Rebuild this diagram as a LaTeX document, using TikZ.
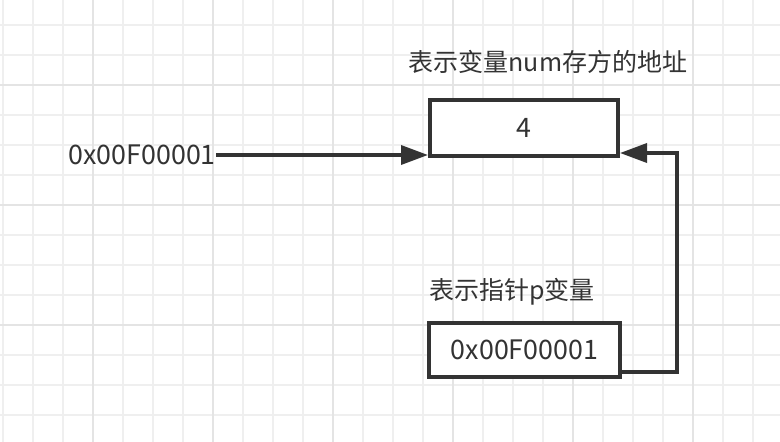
\documentclass[tikz,border=0pt]{standalone}
\usepackage{fontspec}
\setmainfont{Noto Sans CJK SC}
\usetikzlibrary{arrows.meta}

\definecolor{ink}{HTML}{333333}
\definecolor{gridminor}{HTML}{EFEFEF}
\definecolor{gridmajor}{HTML}{E4E4E4}

\tikzset{
  cell/.style={draw=ink,line width=4pt,fill=white,minimum width=188pt,minimum height=56pt,
    font=\fontsize{26.8}{30}\selectfont,text=ink},
  caption/.style={font=\fontsize{25}{30}\selectfont,text=ink,inner sep=0pt},
  hexlabel/.style={caption,font=\fontsize{26.8}{30}\selectfont},
  link/.style={draw=ink,line width=3.5pt},
}

\begin{document}
\begin{tikzpicture}[x=1pt,y=-1pt,>={Triangle[length=27pt,width=19pt]}]

% canvas and grid
\useasboundingbox (0,0) rectangle (780,442);
\fill[white] (0,0) rectangle (780,442);
\foreach \x in {3,33,...,783}
  \draw[gridminor,line width=1.5pt] (\x,0) -- (\x,442);
\foreach \y in {25,55,...,445}
  \draw[gridminor,line width=1.5pt] (0,\y) -- (780,\y);
\foreach \x in {93,213,...,693}
  \draw[gridmajor,line width=1.5pt] (\x,0) -- (\x,442);
\foreach \y in {85,205,325}
  \draw[gridmajor,line width=1.5pt] (0,\y) -- (780,\y);

% the variable num and its address
\node[caption] (numlabel) at (548,62) {表示变量num存方的地址};
\node[cell] (numbox) at (524,128) {4};

% the pointer p
\node[caption] (ptrlabel) at (512,292) {表示指针p变量};
\node[cell,minimum width=191pt,minimum height=54pt] (ptrbox) at (524.5,350) {0x00F00001};

% address on the left
\node[hexlabel,anchor=east] (addr) at (216,155) {0x00F00001};

% connectors
\coordinate (bend) at (677,372);
\coordinate (rise) at (677,153);
\draw[link,->] (addr.east) -- (addr.east -| numbox.south west);
\draw[link,->] (bend -| ptrbox.east) -- (bend) -- (rise) -- (rise -| numbox.east);

\end{tikzpicture}
\end{document}
